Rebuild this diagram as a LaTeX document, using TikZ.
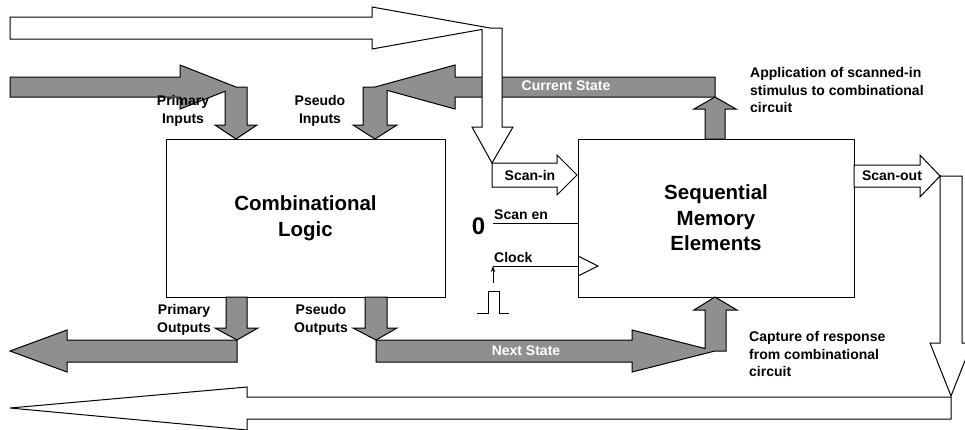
\documentclass[tikz,border=0pt]{standalone}
\usepackage{fontspec}
\setmainfont{Liberation Sans}
\usetikzlibrary{arrows.meta}
\definecolor{fillgray}{gray}{0.56}
\tikzset{
  blockg/.style={draw=black, fill=fillgray, line width=1pt, line join=miter},
  blockw/.style={draw=black, fill=white, line width=1pt, line join=miter},
  box/.style={draw=black, fill=white, line width=1pt, inner sep=0pt, outer sep=0pt, align=center,
              font=\fontsize{20.5}{25.5}\selectfont\bfseries},
  lbl/.style={inner sep=0pt, align=center, font=\fontsize{14}{17.5}\selectfont\bfseries},
  wlbl/.style={lbl, text=white},
  wire/.style={draw=black, line width=1pt}
}
\begin{document}
\begin{tikzpicture}[x=1pt,y=-1pt]
\clip (0,0) rectangle (965,429);
\fill[white] (0,0) rectangle (965,429);

% boxes
\node[box, minimum width=279pt, minimum height=158pt] (cl) at (305.5,218) {Combinational\\Logic};
\node[box, minimum width=276pt, minimum height=158pt] (sme) at (716,218) {Sequential\\Memory\\Elements};

% gray block arrows
\path[blockg] (10,77) -- (180,77) -- (180,65) -- (236,87) -- (247,87) -- (247,125) -- (257,125)
  -- (236,139) -- (215,125) -- (225,125) -- (225,91.3) -- (180,109) -- (180,97) -- (10,97) -- cycle;
\path[blockg] (715,77) -- (455,77) -- (455,65) -- (375,87) -- (363,87) -- (363,125) -- (353,125)
  -- (375,139) -- (397,125) -- (387,125) -- (387,90.3) -- (455,109) -- (455,97) -- (715,97) -- cycle;
\path[blockg] (705,139) -- (705,109) -- (694,109) -- (715,97) -- (736,109) -- (725,109) -- (725,139) -- cycle;
\path[blockg] (226,297) -- (226,328) -- (215,328) -- (237,340) -- (258,328) -- (247,328) -- (247,297) -- cycle;
\path[blockg] (237,340) -- (67,340) -- (67,330) -- (10,351) -- (67,372) -- (67,362) -- (237,362) -- cycle;
\path[blockg] (365,297) -- (365,328) -- (353,328) -- (376,340) -- (397,328) -- (387,328) -- (387,297) -- cycle;
\path[blockg] (376,340) -- (632,340) -- (632,330) -- (705,348.5) -- (705,310) -- (694,310) -- (715,297)
  -- (737,310) -- (726,310) -- (726,351) -- (715,351) -- (632,372) -- (632,362) -- (376,362) -- cycle;

% white block arrows (scan path)
\path[blockw] (10,17) -- (372,17) -- (372,7) -- (490,28) -- (502,28) -- (502,127) -- (513,127)
  -- (492,163) -- (472,127) -- (482,127) -- (482,29.4) -- (372,49) -- (372,39) -- (10,39) -- cycle;
\path[blockw] (492,163) -- (557,163) -- (557,155) -- (577,175) -- (557,195) -- (557,187) -- (492,187) -- cycle;
\path[blockw] (854,165) -- (920,165) -- (920,155) -- (940,176) -- (962,176) -- (962,343) -- (972,343)
  -- (951,396) -- (930,343) -- (940,343) -- (940,176) -- (920,197) -- (920,187) -- (854,187) -- cycle;
\path[blockw] (951,397) -- (951,419) -- (247,419) -- (247,430) -- (10,408) -- (247,387) -- (247,397) -- cycle;

% scan enable and clock
\coordinate (se) at (493,223);
\coordinate (ck) at (493,266);
\coordinate (ckb) at (493,283);
\draw[wire] (se) -- (sme.west |- se);
\draw[wire] (ck) -- (sme.west |- ck);
\draw[wire] (578,256) -- (598,266) -- (578,276);
\draw[wire, -{Stealth[length=6pt,width=4.5pt]}] (ckb) -- (ck);
\draw[wire] (477,313) -- (488,313) -- (488,291) -- (499,291) -- (499,313) -- (509,313);
\node[inner sep=0pt, font=\fontsize{24}{24}\selectfont\bfseries] (zero) at (478.5,226) {0};
\node[lbl, anchor=west] (scanen) at (494,215) {Scan en};
\node[lbl, anchor=west] (clock) at (494,257) {Clock};

% labels
\node[lbl] (pi) at (183,111) {Primary\\Inputs};
\node[lbl] (psi) at (320,111) {Pseudo\\Inputs};
\node[lbl] (po) at (184,320) {Primary\\Outputs};
\node[lbl] (pso) at (321,320) {Pseudo\\Outputs};
\node[wlbl] (cs) at (566,86) {Current State};
\node[wlbl] (ns) at (526,351) {Next State};
\node[lbl] (sin) at (530,175) {Scan-in};
\node[lbl] (sout) at (892,176) {Scan-out};
\node[lbl, anchor=west, align=left] (app) at (750,90) {Application of scanned-in\\stimulus to combinational\\circuit};
\node[lbl, anchor=west, align=left] (cap) at (749,354) {Capture of response\\from combinational\\circuit};
\end{tikzpicture}
\end{document}
